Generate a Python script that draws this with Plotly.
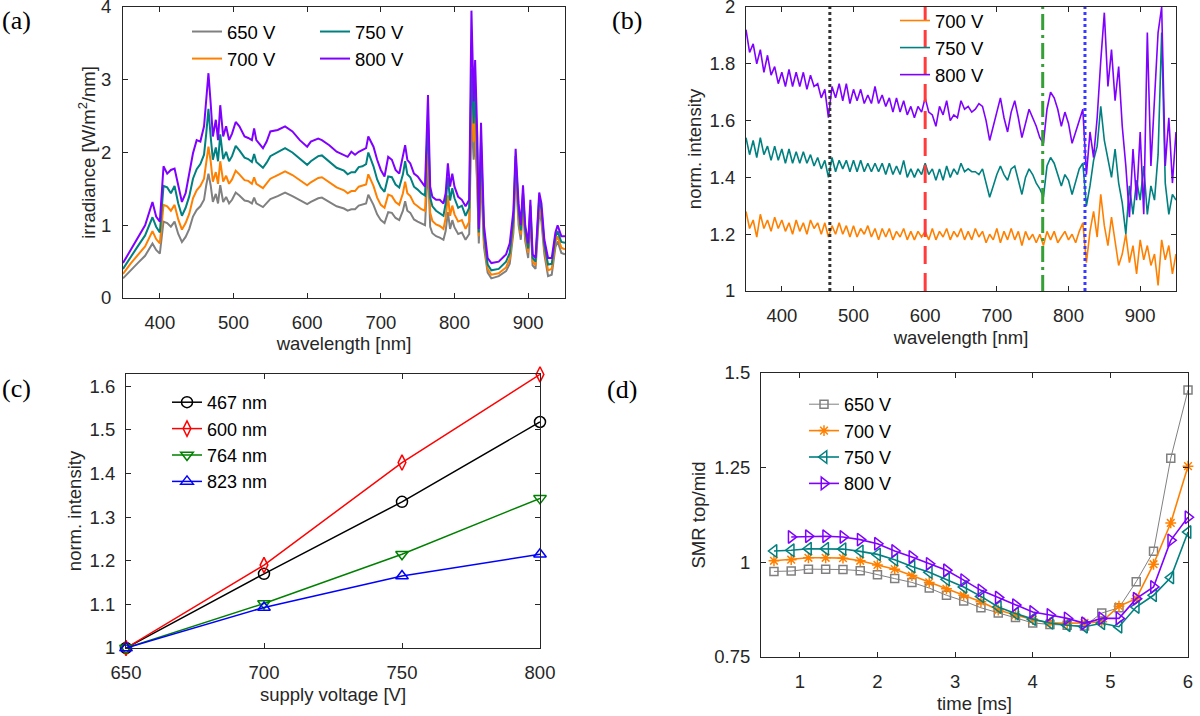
import plotly.graph_objects as go

# ---------------- data: panel (a) irradiance spectra ----------------
wl_a = [350, 360, 370, 380, 390, 395, 400, 405, 410, 415,
        420, 425, 430, 435, 440, 445, 450, 455, 460, 463,
        466, 469, 472, 476, 479, 482, 486, 490, 494, 498,
        503, 508, 515, 520, 525, 528, 531, 540, 545, 550,
        560, 570, 580, 590, 600, 605, 615, 620, 630, 640,
        650, 655, 660, 665, 670, 675, 680, 683, 686, 690,
        695, 700, 705, 710, 715, 720, 725, 730, 733, 736,
        740, 745, 750, 755, 760, 764, 767, 770, 775, 780,
        785, 788, 791, 794, 797, 800, 805, 810, 815, 820,
        823, 826, 828, 831, 833, 836, 840, 845, 850, 860,
        870, 875, 880, 883, 887, 890, 893, 896, 900, 903,
        906, 910, 915, 918, 922, 927, 932, 937, 940, 945,
        950]

irr_650 = [0.27, 0.38, 0.48, 0.58, 0.75, 0.66, 0.61, 1.05, 1.03, 0.98,
           1.05, 0.88, 0.77, 0.84, 0.95, 1.12, 1.21, 1.26, 1.35, 1.55,
           1.71, 1.55, 1.32, 1.43, 1.30, 1.55, 1.32, 1.39, 1.30, 1.35,
           1.45, 1.41, 1.34, 1.33, 1.30, 1.38, 1.30, 1.25, 1.30, 1.36,
           1.40, 1.45, 1.40, 1.35, 1.29, 1.32, 1.37, 1.38, 1.32, 1.26,
           1.23, 1.20, 1.22, 1.22, 1.27, 1.28, 1.30, 1.42, 1.36, 1.28,
           1.15, 1.07, 1.03, 1.18, 1.17, 1.10, 1.07, 1.20, 1.33, 1.20,
           1.17, 1.08, 1.05, 1.02, 1.00, 1.85, 0.98, 0.89, 0.85, 0.83,
           0.80, 0.92, 1.18, 0.95, 1.07, 0.97, 0.88, 0.90, 0.80, 0.88,
           2.50, 1.90, 2.20, 1.50, 0.75, 1.70, 0.70, 0.35, 0.27, 0.30,
           0.37, 0.47, 0.90, 1.75, 1.00, 0.80, 1.25, 0.78, 0.55, 1.10,
           0.45, 0.40, 1.20, 1.05, 0.60, 0.30, 0.32, 0.70, 0.78, 0.62,
           0.60]

irr_700 = [0.33, 0.47, 0.59, 0.71, 0.92, 0.81, 0.75, 1.28, 1.26, 1.20,
           1.28, 1.08, 0.94, 1.03, 1.16, 1.37, 1.48, 1.54, 1.64, 1.88,
           2.08, 1.88, 1.60, 1.73, 1.57, 1.88, 1.60, 1.68, 1.57, 1.63,
           1.75, 1.70, 1.62, 1.61, 1.57, 1.66, 1.57, 1.51, 1.57, 1.64,
           1.69, 1.74, 1.69, 1.62, 1.55, 1.59, 1.65, 1.66, 1.59, 1.52,
           1.48, 1.44, 1.47, 1.47, 1.53, 1.54, 1.56, 1.70, 1.63, 1.54,
           1.38, 1.28, 1.24, 1.42, 1.40, 1.32, 1.28, 1.44, 1.60, 1.44,
           1.40, 1.30, 1.26, 1.22, 1.20, 2.15, 1.17, 1.06, 1.01, 0.99,
           0.95, 1.10, 1.41, 1.13, 1.27, 1.15, 1.05, 1.07, 0.95, 1.05,
           2.80, 2.15, 2.55, 1.70, 0.85, 1.90, 0.78, 0.40, 0.32, 0.34,
           0.42, 0.54, 0.98, 1.85, 1.10, 0.87, 1.35, 0.85, 0.62, 1.18,
           0.50, 0.45, 1.28, 1.13, 0.67, 0.38, 0.40, 0.77, 0.85, 0.69,
           0.67]

irr_750 = [0.40, 0.56, 0.71, 0.86, 1.11, 0.98, 0.90, 1.54, 1.52, 1.44,
           1.54, 1.30, 1.13, 1.24, 1.40, 1.64, 1.77, 1.84, 1.97, 2.26,
           2.60, 2.22, 1.90, 2.07, 1.88, 2.25, 1.91, 2.01, 1.88, 1.95,
           2.09, 2.03, 1.93, 1.91, 1.87, 1.98, 1.87, 1.79, 1.86, 1.95,
           2.00, 2.06, 2.00, 1.92, 1.83, 1.88, 1.95, 1.96, 1.88, 1.79,
           1.75, 1.70, 1.73, 1.73, 1.80, 1.81, 1.84, 2.00, 1.92, 1.81,
           1.63, 1.52, 1.46, 1.67, 1.66, 1.56, 1.52, 1.70, 1.88, 1.70,
           1.66, 1.53, 1.49, 1.44, 1.41, 2.45, 1.38, 1.26, 1.20, 1.17,
           1.13, 1.30, 1.66, 1.34, 1.51, 1.37, 1.24, 1.27, 1.13, 1.24,
           3.15, 2.40, 2.90, 1.95, 0.90, 2.15, 0.88, 0.46, 0.38, 0.40,
           0.50, 0.62, 1.08, 1.95, 1.20, 0.93, 1.45, 0.92, 0.68, 1.27,
           0.55, 0.50, 1.37, 1.22, 0.73, 0.46, 0.47, 0.84, 0.92, 0.77,
           0.76]

irr_800 = [0.48, 0.65, 0.82, 1.00, 1.32, 1.12, 1.05, 1.81, 1.71, 1.76,
           1.78, 1.53, 1.32, 1.44, 1.71, 1.99, 2.17, 2.15, 2.36, 2.77,
           3.09, 2.68, 2.22, 2.45, 2.17, 2.65, 2.22, 2.36, 2.17, 2.26,
           2.42, 2.36, 2.22, 2.20, 2.17, 2.33, 2.17, 2.06, 2.15, 2.29,
           2.31, 2.36, 2.29, 2.17, 2.08, 2.15, 2.19, 2.17, 2.10, 2.01,
           1.97, 1.94, 2.01, 1.97, 2.01, 2.03, 2.06, 2.22, 2.15, 2.08,
           1.90, 1.76, 1.67, 1.94, 1.90, 1.76, 1.71, 1.94, 2.10, 1.90,
           1.85, 1.71, 1.67, 1.60, 1.53, 2.79, 1.53, 1.39, 1.35, 1.35,
           1.30, 1.44, 1.85, 1.53, 1.71, 1.53, 1.39, 1.35, 1.26, 1.35,
           3.95, 2.70, 3.27, 2.20, 0.95, 2.41, 1.00, 0.55, 0.48, 0.50,
           0.60, 0.75, 1.20, 2.05, 1.30, 1.00, 1.55, 1.00, 0.75, 1.35,
           0.60, 0.55, 1.45, 1.30, 0.80, 0.55, 0.55, 0.90, 1.00, 0.85,
           0.85]

# ---------------- data: panel (b) normalised intensity ----------------
wl_b = list(range(350, 951, 5))

ratio_700 = [1.28, 1.22, 1.25, 1.19, 1.27, 1.22, 1.25, 1.21, 1.26, 1.22,
             1.25, 1.21, 1.24, 1.20, 1.25, 1.21, 1.24, 1.20, 1.25, 1.22,
             1.24, 1.20, 1.24, 1.19, 1.23, 1.20, 1.24, 1.20, 1.23, 1.19,
             1.23, 1.19, 1.22, 1.20, 1.23, 1.19, 1.22, 1.18, 1.22, 1.19,
             1.22, 1.18, 1.21, 1.19, 1.22, 1.18, 1.21, 1.18, 1.21, 1.19,
             1.21, 1.18, 1.22, 1.18, 1.21, 1.19, 1.22, 1.18, 1.21, 1.19,
             1.22, 1.18, 1.21, 1.18, 1.22, 1.19, 1.21, 1.17, 1.20, 1.18,
             1.22, 1.17, 1.21, 1.18, 1.22, 1.18, 1.21, 1.16, 1.21, 1.18,
             1.20, 1.17, 1.20, 1.16, 1.21, 1.18, 1.21, 1.17, 1.19, 1.21,
             1.18, 1.20, 1.17, 1.21, 1.24, 1.10, 1.21, 1.28, 1.19, 1.34,
             1.23, 1.16, 1.26, 1.18, 1.09, 1.13, 1.20, 1.10, 1.16, 1.06,
             1.18, 1.11, 1.16, 1.09, 1.13, 1.02, 1.18, 1.11, 1.16, 1.06,
             1.13]

ratio_750 = [1.54, 1.48, 1.53, 1.47, 1.54, 1.48, 1.51, 1.46, 1.51, 1.46,
             1.50, 1.45, 1.50, 1.45, 1.49, 1.45, 1.49, 1.45, 1.48, 1.44,
             1.47, 1.43, 1.46, 1.40, 1.47, 1.42, 1.46, 1.43, 1.46, 1.42,
             1.46, 1.42, 1.46, 1.42, 1.45, 1.42, 1.45, 1.42, 1.45, 1.41,
             1.45, 1.41, 1.44, 1.41, 1.46, 1.40, 1.43, 1.40, 1.43, 1.41,
             1.45, 1.41, 1.43, 1.39, 1.43, 1.39, 1.44, 1.40, 1.43, 1.41,
             1.45, 1.42, 1.43, 1.42, 1.42, 1.41, 1.43, 1.38, 1.33, 1.37,
             1.41, 1.44, 1.41, 1.39, 1.43, 1.44, 1.39, 1.34, 1.40, 1.43,
             1.41, 1.38, 1.36, 1.33, 1.44, 1.47, 1.45, 1.41, 1.37, 1.41,
             1.39, 1.34, 1.39, 1.43, 1.45, 1.30, 1.37, 1.46, 1.51, 1.65,
             1.53, 1.47, 1.40, 1.50, 1.38, 1.31, 1.20, 1.37, 1.27, 1.39,
             1.32, 1.44, 1.27, 1.37, 1.32, 1.48, 1.91, 1.38, 1.27, 1.34,
             1.32]

ratio_800 = [1.92, 1.84, 1.87, 1.80, 1.85, 1.77, 1.83, 1.76, 1.79, 1.73,
             1.77, 1.72, 1.78, 1.72, 1.77, 1.72, 1.77, 1.71, 1.76, 1.72,
             1.73, 1.68, 1.71, 1.61, 1.72, 1.68, 1.73, 1.67, 1.73, 1.66,
             1.71, 1.67, 1.71, 1.66, 1.69, 1.66, 1.72, 1.66, 1.69, 1.65,
             1.68, 1.63, 1.68, 1.63, 1.67, 1.62, 1.65, 1.61, 1.65, 1.63,
             1.68, 1.63, 1.62, 1.58, 1.65, 1.62, 1.67, 1.60, 1.62, 1.61,
             1.67, 1.64, 1.65, 1.63, 1.64, 1.66, 1.65, 1.60, 1.53, 1.58,
             1.64, 1.68, 1.61, 1.56, 1.63, 1.67, 1.61, 1.54, 1.59, 1.64,
             1.61, 1.58, 1.54, 1.52, 1.64, 1.70, 1.68, 1.64, 1.58, 1.63,
             1.59, 1.52, 1.56, 1.60, 1.64, 1.41, 1.56, 1.47, 1.61, 1.81,
             1.98, 1.72, 1.85, 1.67, 1.79, 1.58, 1.44, 1.26, 1.50, 1.32,
             1.56, 1.27, 1.91, 1.44, 1.67, 1.91, 2.00, 1.44, 1.61, 1.38,
             1.56]

line_wl = [467, 600, 764, 823]

# ---------------- data: panel (c) ----------------
voltage = [650, 700, 750, 800]
int_467 = [1.000, 1.170, 1.335, 1.518]
int_600 = [1.000, 1.190, 1.425, 1.627]
int_764 = [1.000, 1.102, 1.215, 1.343]
int_823 = [1.000, 1.093, 1.165, 1.215]

# ---------------- data: panel (d) ----------------
time_ms = [0.667, 0.889, 1.111, 1.333, 1.556, 1.778, 2.000, 2.222, 2.444,
           2.667, 2.889, 3.111, 3.333, 3.556, 3.778, 4.000, 4.222, 4.444,
           4.667, 4.889, 5.111, 5.333, 5.556, 5.778, 6.000]
smr_650 = [0.976, 0.977, 0.982, 0.982, 0.981, 0.978, 0.967, 0.957, 0.947,
           0.932, 0.913, 0.898, 0.880, 0.866, 0.854, 0.840, 0.836, 0.834,
           0.832, 0.866, 0.880, 0.949, 1.029, 1.275, 1.455]
smr_700 = [1.004, 1.007, 1.012, 1.012, 1.011, 1.004, 0.993, 0.982, 0.965,
           0.947, 0.930, 0.913, 0.896, 0.874, 0.861, 0.849, 0.840, 0.839,
           0.840, 0.843, 0.884, 0.904, 0.995, 1.104, 1.254]
smr_750 = [1.030, 1.032, 1.036, 1.036, 1.035, 1.029, 1.021, 1.007, 0.989,
           0.974, 0.955, 0.935, 0.910, 0.882, 0.865, 0.850, 0.840, 0.834,
           0.830, 0.839, 0.830, 0.882, 0.913, 0.960, 1.080]
smr_800 = [None, 1.067, 1.069, 1.069, 1.067, 1.060, 1.049, 1.030, 1.014,
           0.996, 0.979, 0.953, 0.926, 0.907, 0.887, 0.869, 0.861, 0.852,
           0.839, 0.852, 0.852, 0.904, 0.935, 1.058, 1.119]

# ---------------- styling ----------------
W, H = 1200, 716
FONT = "Liberation Sans, Arial, sans-serif"
SERIF = "Liberation Serif, Times New Roman, serif"
AX = "#262626"
GRAY, ORANGE, TEAL, PURPLE = "#808080", "#FF8000", "#008080", "#8000FF"


def dx(a, b):
    return [a / W, b / W]


def dy(top, bottom):
    return [1 - bottom / H, 1 - top / H]


fig = go.Figure()

# panel (a)
for name, ys, col, leg in [("650 V", irr_650, GRAY, "legend"),
                           ("700 V", irr_700, ORANGE, "legend"),
                           ("750 V", irr_750, TEAL, "legend2"),
                           ("800 V", irr_800, PURPLE, "legend2")]:
    fig.add_trace(go.Scatter(x=wl_a, y=ys, mode="lines", name=name,
                             line=dict(color=col, width=2),
                             xaxis="x", yaxis="y", legend=leg))

# panel (b)
for name, ys, col in [("700 V", ratio_700, ORANGE),
                      ("750 V", ratio_750, TEAL),
                      ("800 V", ratio_800, PURPLE)]:
    fig.add_trace(go.Scatter(x=wl_b, y=ys, mode="lines", name=name,
                             line=dict(color=col, width=1.6),
                             xaxis="x2", yaxis="y2", legend="legend3"))

line_cols = ["#333333", "#FF3B3B", "#35A035", "#3A3AFF"]
line_dash = ["3px,3px", "18px,9px", "16px,5px,3px,5px", "3px,3px"]
for xv, c, d in zip(line_wl, line_cols, line_dash):
    fig.add_shape(type="line", xref="x2", yref="y2 domain", x0=xv, x1=xv,
                  y0=0, y1=1, line=dict(color=c, width=3, dash=d))

# panel (c)
for name, ys, col, sym in [("467 nm", int_467, "#000000", "circle-open"),
                           ("600 nm", int_600, "#FF0000", "diamond-tall-open"),
                           ("764 nm", int_764, "#008000", "triangle-down-open"),
                           ("823 nm", int_823, "#0000FF", "triangle-up-open")]:
    fig.add_trace(go.Scatter(x=voltage, y=ys, mode="lines+markers", name=name,
                             line=dict(color=col, width=1.5),
                             marker=dict(symbol=sym, size=11, color=col,
                                         line=dict(width=1.5, color=col)),
                             xaxis="x3", yaxis="y3", legend="legend4",
                             cliponaxis=False))

# panel (d)
for name, ys, col, sym, sz, lw in [("650 V", smr_650, GRAY, "square-open", 8, 1),
                                   ("700 V", smr_700, ORANGE, "asterisk-open", 9, 1.6),
                                   ("750 V", smr_750, TEAL, "triangle-left-open", 11, 1.6),
                                   ("800 V", smr_800, PURPLE, "triangle-right-open", 11, 1.6)]:
    fig.add_trace(go.Scatter(x=time_ms, y=ys, mode="lines+markers", name=name,
                             line=dict(color=col, width=lw),
                             marker=dict(symbol=sym, size=sz, color=col,
                                         line=dict(width=1.5, color=col)),
                             xaxis="x4", yaxis="y4", legend="legend5",
                             cliponaxis=False))


def axis(domain, rng, tickvals, title, anchor, standoff, lab_off):
    return dict(domain=domain, range=rng, tickvals=tickvals, automargin=False,
                showline=True, linecolor=AX, linewidth=1, mirror="ticks",
                ticks="inside", ticklen=5, tickwidth=1, tickcolor=AX,
                ticklabelstandoff=lab_off, ticklabeloverflow="allow",
                showgrid=False, zeroline=False, anchor=anchor,
                tickfont=dict(family=FONT, size=18.5, color=AX),
                title=dict(text=title, font=dict(family=FONT, size=18.5, color=AX),
                           standoff=standoff))


def legend(x, ytop, size):
    return dict(x=x / W, y=1 - ytop / H, xanchor="left", yanchor="top",
                bgcolor="rgba(0,0,0,0)", borderwidth=0,
                font=dict(family=FONT, size=size, color="#000000"),
                tracegroupgap=0, traceorder="normal")


fig.update_layout(
    template="none",
    width=W, height=H, margin=dict(l=0, r=0, t=0, b=0, pad=0, autoexpand=False),
    paper_bgcolor="white", plot_bgcolor="white", showlegend=True,
    xaxis=axis(dx(123, 565), [350, 950], [400, 500, 600, 700, 800, 900],
               "wavelength [nm]", "y", 4, 8),
    yaxis=axis(dy(7, 298), [0, 4], [0, 1, 2, 3, 4],
               "irradiance [W/m<sup>2</sup>/nm]", "x", 0, 7),
    xaxis2=axis(dx(746, 1176), [350, 950], [400, 500, 600, 700, 800, 900],
                "wavelength [nm]", "y2", 5, 8),
    yaxis2=axis(dy(7, 291), [1, 2], [1, 1.2, 1.4, 1.6, 1.8, 2],
                "norm. intensity", "x2", 3, 6),
    xaxis3=axis(dx(126, 540), [650, 800], [650, 700, 750, 800],
                "supply voltage [V]", "y3", 5, 8),
    yaxis3=axis(dy(374, 648), [1, 1.628], [1, 1.1, 1.2, 1.3, 1.4, 1.5, 1.6],
                "norm. intensity", "x3", 3, 6),
    xaxis4=axis(dx(761, 1188), [0.5, 6], [1, 2, 3, 4, 5, 6],
                "time [ms]", "y4", 5, 8),
    yaxis4=axis(dy(373, 657), [0.75, 1.5], [0.75, 1, 1.25, 1.5],
                "SMR top/mid", "x4", 3, 6),
    legend=legend(187, 13, 18.5),
    legend2=legend(315, 13, 18.5),
    legend3=legend(895, 2, 18.5),
    legend4=legend(167, 384, 18),
    legend5=legend(804, 386, 18),
)

for txt, x, y in [("(a)", 0, 20), ("(b)", 610, 20), ("(c)", 0, 388), ("(d)", 605, 390)]:
    fig.add_annotation(text=txt, x=x / W, y=1 - y / H, xref="paper", yref="paper",
                       xanchor="left", yanchor="middle", showarrow=False,
                       font=dict(family=SERIF, size=26, color="#000000"))

fig.write_html("out.html")
